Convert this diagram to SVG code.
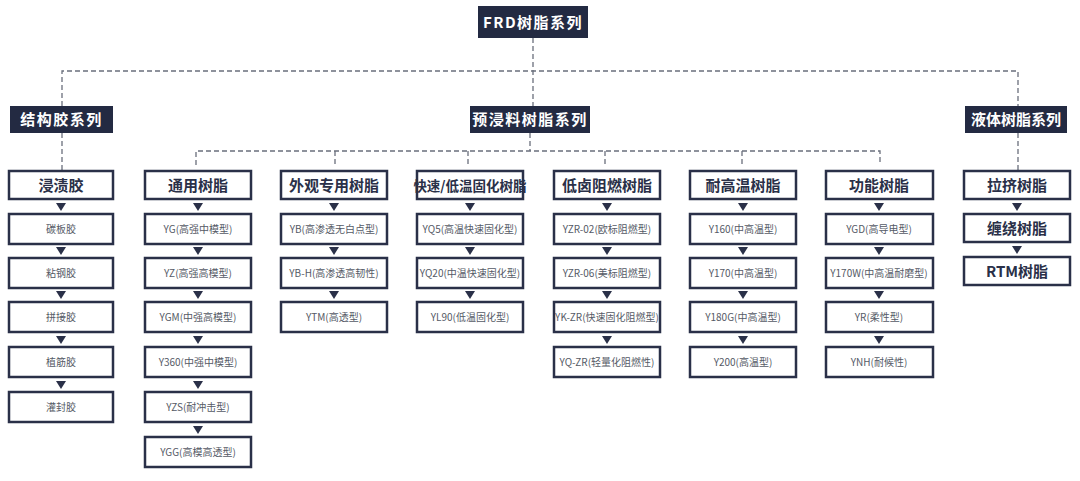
<svg xmlns="http://www.w3.org/2000/svg" width="1080" height="481" viewBox="0 0 1080 481">
<style>
.dark{fill:#232a42}
.dt{fill:#fff;font-family:"Noto Sans CJK SC",sans-serif;font-weight:bold;font-size:15px;text-anchor:middle;letter-spacing:1.5px}
.hb{fill:#fff;stroke:#2a3048;stroke-width:2.5}
.ht{fill:#2a3048;font-family:"Noto Sans CJK SC",sans-serif;font-weight:bold;font-size:15px;text-anchor:middle}
.ct{fill:#555a66;font-family:"Noto Sans CJK SC",sans-serif;font-size:10px;text-anchor:middle}
.dash{stroke:#6a6f7c;stroke-width:1.3;stroke-dasharray:5 3;fill:none}
.ar{fill:#2a3048}
</style>
<defs>
<path id="tri" d="M-5,-4 L5,-4 L0,4 Z"/>
</defs>
<g id="connectors">
<path class="dash" d="M533,38 V106 M62,106 V71 H1018 V106 M62,133 V171 M530,133 V151 M196,165 V151 H880 V165 M335,151 V165 M468,151 V165 M605,151 V165 M742,151 V165 M1018,133 V171"/>
</g>
<g id="root"><rect class="dark" x="478" y="6" width="110" height="32"/><text class="dt" x="533" y="28">FRD树脂系列</text></g>
<g id="s1"><rect class="dark" x="10" y="106" width="103" height="27"/><text class="dt" x="61.5" y="125">结构胶系列</text></g>
<g id="s2"><rect class="dark" x="470" y="106" width="120" height="27"/><text class="dt" x="530" y="125">预浸料树脂系列</text></g>
<g id="s3"><rect class="dark" x="965" y="106" width="102" height="27"/><text class="dt" x="1016" y="125" style="letter-spacing:0">液体树脂系列</text></g>

<g id="col1">
<rect class="hb" x="9" y="171" width="104" height="28"/><text class="ht" x="61" y="191">浸渍胶</text>
<use href="#tri" class="ar" x="61" y="207"/>
<rect class="hb" x="9" y="214" width="104" height="30"/><text class="ct" x="61" y="233">碳板胶</text>
<use href="#tri" class="ar" x="61" y="251"/>
<rect class="hb" x="9" y="258" width="104" height="30"/><text class="ct" x="61" y="277">粘钢胶</text>
<use href="#tri" class="ar" x="61" y="295"/>
<rect class="hb" x="9" y="302" width="104" height="30"/><text class="ct" x="61" y="321">拼接胶</text>
<use href="#tri" class="ar" x="61" y="340"/>
<rect class="hb" x="9" y="347" width="104" height="30"/><text class="ct" x="61" y="366">植筋胶</text>
<use href="#tri" class="ar" x="61" y="385"/>
<rect class="hb" x="9" y="392" width="104" height="30"/><text class="ct" x="61" y="411">灌封胶</text>
</g>

<g id="col2">
<rect class="hb" x="145" y="171" width="106" height="28"/><text class="ht" x="198" y="191">通用树脂</text>
<use href="#tri" class="ar" x="198" y="207"/>
<rect class="hb" x="145" y="214" width="106" height="30"/><text class="ct" x="198" y="233">YG(高强中模型)</text>
<use href="#tri" class="ar" x="198" y="251"/>
<rect class="hb" x="145" y="258" width="106" height="30"/><text class="ct" x="198" y="277">YZ(高强高模型)</text>
<use href="#tri" class="ar" x="198" y="295"/>
<rect class="hb" x="145" y="302" width="106" height="30"/><text class="ct" x="198" y="321">YGM(中强高模型)</text>
<use href="#tri" class="ar" x="198" y="340"/>
<rect class="hb" x="145" y="347" width="106" height="30"/><text class="ct" x="198" y="366">Y360(中强中模型)</text>
<use href="#tri" class="ar" x="198" y="385"/>
<rect class="hb" x="145" y="392" width="106" height="30"/><text class="ct" x="198" y="411">YZS(耐冲击型)</text>
<use href="#tri" class="ar" x="198" y="430"/>
<rect class="hb" x="145" y="437" width="106" height="30"/><text class="ct" x="198" y="456">YGG(高模高透型)</text>
</g>

<g id="col3">
<rect class="hb" x="281" y="171" width="106" height="28"/><text class="ht" x="334" y="191">外观专用树脂</text>
<use href="#tri" class="ar" x="334" y="207"/>
<rect class="hb" x="281" y="214" width="106" height="30"/><text class="ct" x="334" y="233">YB(高渗透无白点型)</text>
<use href="#tri" class="ar" x="334" y="251"/>
<rect class="hb" x="281" y="258" width="106" height="30"/><text class="ct" x="334" y="277">YB-H(高渗透高韧性)</text>
<use href="#tri" class="ar" x="334" y="295"/>
<rect class="hb" x="281" y="302" width="106" height="30"/><text class="ct" x="334" y="321">YTM(高透型)</text>
</g>

<g id="col4">
<rect class="hb" x="417" y="171" width="106" height="28"/><text class="ht" x="470" y="191" style="font-size:13.5px">快速/低温固化树脂</text>
<use href="#tri" class="ar" x="470" y="207"/>
<rect class="hb" x="417" y="214" width="106" height="30"/><text class="ct" x="470" y="233">YQ5(高温快速固化型)</text>
<use href="#tri" class="ar" x="470" y="251"/>
<rect class="hb" x="417" y="258" width="106" height="30"/><text class="ct" x="470" y="277">YQ20(中温快速固化型)</text>
<use href="#tri" class="ar" x="470" y="295"/>
<rect class="hb" x="417" y="302" width="106" height="30"/><text class="ct" x="470" y="321">YL90(低温固化型)</text>
</g>

<g id="col5">
<rect class="hb" x="554" y="171" width="106" height="28"/><text class="ht" x="607" y="191">低卤阻燃树脂</text>
<use href="#tri" class="ar" x="607" y="207"/>
<rect class="hb" x="554" y="214" width="106" height="30"/><text class="ct" x="607" y="233">YZR-02(欧标阻燃型)</text>
<use href="#tri" class="ar" x="607" y="251"/>
<rect class="hb" x="554" y="258" width="106" height="30"/><text class="ct" x="607" y="277">YZR-06(美标阻燃型)</text>
<use href="#tri" class="ar" x="607" y="295"/>
<rect class="hb" x="554" y="302" width="106" height="30"/><text class="ct" x="607" y="321">YK-ZR(快速固化阻燃型)</text>
<use href="#tri" class="ar" x="607" y="340"/>
<rect class="hb" x="554" y="347" width="106" height="30"/><text class="ct" x="607" y="366">YQ-ZR(轻量化阻燃性)</text>
</g>

<g id="col6">
<rect class="hb" x="690" y="171" width="106" height="28"/><text class="ht" x="743" y="191">耐高温树脂</text>
<use href="#tri" class="ar" x="743" y="207"/>
<rect class="hb" x="690" y="214" width="106" height="30"/><text class="ct" x="743" y="233">Y160(中高温型)</text>
<use href="#tri" class="ar" x="743" y="251"/>
<rect class="hb" x="690" y="258" width="106" height="30"/><text class="ct" x="743" y="277">Y170(中高温型)</text>
<use href="#tri" class="ar" x="743" y="295"/>
<rect class="hb" x="690" y="302" width="106" height="30"/><text class="ct" x="743" y="321">Y180G(中高温型)</text>
<use href="#tri" class="ar" x="743" y="340"/>
<rect class="hb" x="690" y="347" width="106" height="30"/><text class="ct" x="743" y="366">Y200(高温型)</text>
</g>

<g id="col7">
<rect class="hb" x="826" y="171" width="107" height="28"/><text class="ht" x="879" y="191">功能树脂</text>
<use href="#tri" class="ar" x="879" y="207"/>
<rect class="hb" x="826" y="214" width="107" height="30"/><text class="ct" x="879" y="233">YGD(高导电型)</text>
<use href="#tri" class="ar" x="879" y="251"/>
<rect class="hb" x="826" y="258" width="107" height="30"/><text class="ct" x="879" y="277">Y170W(中高温耐磨型)</text>
<use href="#tri" class="ar" x="879" y="295"/>
<rect class="hb" x="826" y="302" width="107" height="30"/><text class="ct" x="879" y="321">YR(柔性型)</text>
<use href="#tri" class="ar" x="879" y="340"/>
<rect class="hb" x="826" y="347" width="107" height="30"/><text class="ct" x="879" y="366">YNH(耐候性)</text>
</g>

<g id="col8">
<rect class="hb" x="964" y="171" width="106" height="28"/><text class="ht" x="1017" y="191">拉挤树脂</text>
<use href="#tri" class="ar" x="1017" y="207"/>
<rect class="hb" x="964" y="214" width="106" height="28"/><text class="ht" x="1017" y="234">缠绕树脂</text>
<use href="#tri" class="ar" x="1017" y="250"/>
<rect class="hb" x="964" y="257" width="106" height="28"/><text class="ht" x="1017" y="277">RTM树脂</text>
</g>
</svg>
